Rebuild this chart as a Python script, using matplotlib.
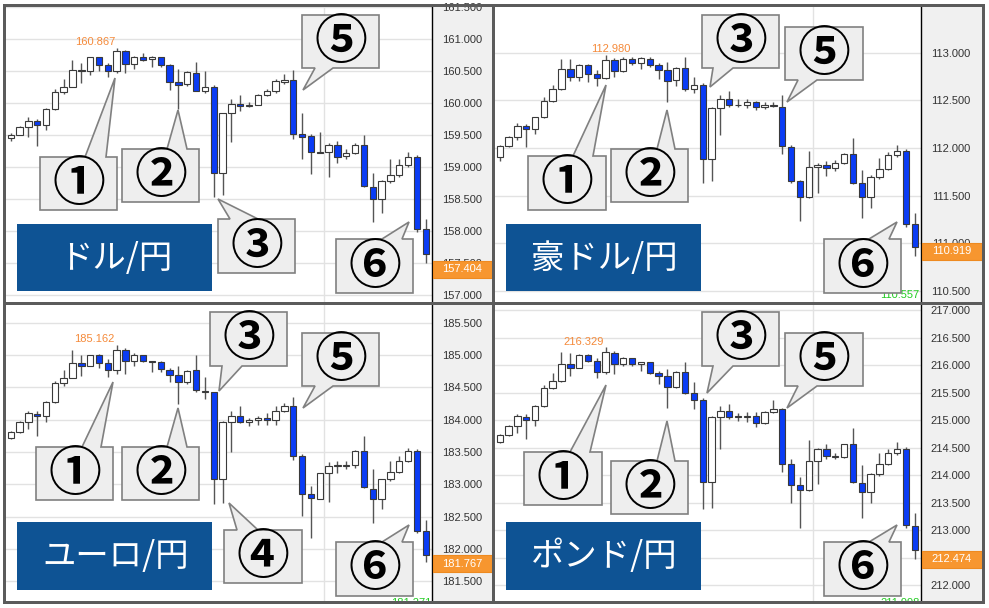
import matplotlib
matplotlib.use('Agg')
import matplotlib.pyplot as plt
from matplotlib.patches import Rectangle, Polygon
import numpy as np

W, H, DPI = 989, 608, 100

# ---------------- data ----------------
usd_open  = [159.458,159.510,159.635,159.719,159.656,159.906,160.182,160.260,160.521,160.500,160.719,160.594,160.500,160.823,160.615,160.719,160.688,160.719,160.594,160.333,160.302,160.479,160.188,160.260,158.906,159.844,159.990,159.958,159.979,160.135,160.198,160.333,160.365,159.521,159.490,159.240,159.240,159.354,159.177,159.219,159.354,158.698,158.500,158.792,158.885,159.031,159.167,158.031]
usd_high  = [159.531,159.651,159.781,159.750,159.922,160.219,160.385,160.677,160.635,160.729,160.729,160.635,160.867,160.833,160.740,160.792,160.740,160.729,160.615,160.531,160.500,160.646,160.510,160.281,159.854,160.073,160.135,160.021,160.146,160.229,160.385,160.458,160.521,159.844,159.521,159.552,159.375,159.406,159.292,159.375,159.500,158.917,158.802,159.125,159.125,159.240,159.198,158.188]
usd_low   = [159.406,159.500,159.479,159.339,159.583,159.896,160.141,160.250,160.323,160.438,160.500,160.417,160.479,160.479,160.542,160.667,160.573,160.573,160.208,159.906,160.271,160.188,160.167,158.542,158.568,159.401,159.875,159.948,159.969,160.115,160.156,160.302,159.438,159.125,158.896,159.219,158.844,159.063,159.125,159.208,158.688,158.146,158.292,158.750,158.854,159.010,157.990,157.500]
usd_close = [159.510,159.635,159.719,159.656,159.906,160.182,160.260,160.521,160.500,160.719,160.594,160.510,160.823,160.615,160.719,160.677,160.719,160.594,160.328,160.281,160.490,160.198,160.260,158.906,159.844,159.990,159.958,159.979,160.135,160.198,160.344,160.365,159.521,159.479,159.240,159.224,159.354,159.167,159.219,159.354,158.708,158.500,158.792,158.885,159.031,159.167,158.031,157.646]

aud_open  = [111.902,112.024,112.115,112.234,112.199,112.322,112.497,112.615,112.829,112.741,112.874,112.776,112.734,112.923,112.811,112.937,112.888,112.937,112.874,112.818,112.713,112.839,112.615,112.664,111.888,112.416,112.510,112.455,112.455,112.483,112.427,112.455,112.427,112.007,111.650,111.490,111.804,111.825,111.790,111.846,111.937,111.636,111.483,111.699,111.783,111.923,111.965,111.203]
aud_high  = [112.035,112.126,112.266,112.252,112.329,112.531,112.664,112.937,112.930,112.881,112.881,112.818,112.980,112.944,112.958,112.958,112.958,112.958,112.895,112.902,112.853,112.951,112.741,112.678,112.427,112.559,112.601,112.510,112.510,112.490,112.483,112.483,112.552,112.035,111.664,111.965,111.839,111.867,111.874,111.951,112.105,111.769,111.720,111.895,111.958,112.028,111.986,111.322]
aud_low   = [111.867,112.014,112.084,112.014,112.147,112.315,112.483,112.608,112.699,112.699,112.692,112.650,112.720,112.741,112.797,112.874,112.832,112.853,112.720,112.486,112.650,112.601,112.580,111.629,111.657,112.133,112.427,112.427,112.420,112.399,112.413,112.434,111.937,111.636,111.238,111.476,111.524,111.706,111.755,111.832,111.622,111.266,111.371,111.671,111.769,111.909,111.175,110.867]
aud_close = [112.024,112.115,112.234,112.199,112.322,112.497,112.615,112.829,112.741,112.874,112.776,112.734,112.923,112.811,112.937,112.888,112.944,112.874,112.818,112.706,112.839,112.615,112.664,111.888,112.416,112.510,112.448,112.448,112.483,112.427,112.455,112.441,112.021,111.650,111.490,111.804,111.825,111.790,111.846,111.937,111.636,111.483,111.699,111.783,111.923,111.965,111.203,110.958]

eur_open  = [183.709,183.813,183.958,184.092,184.051,184.268,184.568,184.651,184.879,184.837,184.993,184.879,184.765,185.070,184.900,184.993,184.905,184.889,184.775,184.693,184.579,184.765,184.440,184.423,183.078,183.958,184.051,183.958,183.999,184.030,183.989,184.134,184.206,183.430,182.850,182.777,183.171,183.290,183.290,183.295,183.512,182.922,182.777,183.078,183.192,183.357,183.512,182.270]
eur_high  = [183.823,183.978,184.134,184.134,184.289,184.599,184.765,185.081,185.003,185.003,185.013,184.931,185.162,185.107,185.024,184.993,184.910,184.910,184.806,184.827,184.775,185.003,184.661,184.434,183.978,184.134,184.206,184.020,184.061,184.102,184.206,184.258,184.346,183.461,182.974,183.181,183.347,183.357,183.367,183.523,183.751,183.233,183.088,183.357,183.430,183.554,183.543,182.446]
eur_low   = [183.699,183.792,183.854,183.740,183.958,184.258,184.527,184.641,184.672,184.827,184.796,184.661,184.703,184.713,184.837,184.889,184.744,184.734,184.579,184.242,184.558,184.434,184.320,182.689,182.715,183.502,183.947,183.895,183.916,183.916,183.916,184.123,183.378,182.508,182.167,182.777,182.726,183.181,183.233,183.254,182.943,182.405,182.612,183.057,183.171,183.347,182.249,181.804]
eur_close = [183.813,183.958,184.102,184.051,184.268,184.568,184.651,184.879,184.837,184.993,184.879,184.775,185.070,184.900,184.993,184.900,184.895,184.786,184.693,184.579,184.755,184.454,184.430,183.078,183.958,184.051,183.958,183.999,184.030,183.989,184.134,184.206,183.430,182.850,182.788,183.171,183.285,183.300,183.300,183.512,182.953,182.777,183.078,183.192,183.357,183.512,182.270,181.908]

gbp_open  = [214.597,214.730,214.888,215.058,214.998,215.265,215.593,215.708,216.030,215.957,216.188,216.079,215.872,216.225,216.018,216.128,216.030,216.055,215.860,215.800,215.605,215.872,215.496,215.362,213.880,215.058,215.168,215.076,215.064,215.083,214.949,215.143,215.204,214.208,213.831,213.734,214.256,214.487,214.335,214.341,214.560,213.855,213.697,214.026,214.208,214.402,214.487,213.078]
gbp_high  = [214.742,214.913,215.119,215.107,215.277,215.642,215.860,216.237,216.213,216.200,216.200,216.128,216.329,216.261,216.152,216.140,216.067,216.067,215.897,215.933,215.897,216.067,215.702,215.399,215.070,215.265,215.289,215.131,215.143,215.156,215.168,215.374,215.228,214.305,213.977,214.633,214.499,214.560,214.414,214.572,214.852,214.183,214.050,214.414,214.475,214.609,214.512,213.309]
gbp_low   = [214.584,214.718,214.767,214.657,214.888,215.241,215.569,215.690,215.812,215.945,216.055,215.775,215.848,215.848,215.994,215.982,215.897,215.836,215.654,215.216,215.581,215.471,215.204,213.382,213.406,214.475,215.022,214.985,214.961,214.876,214.925,215.131,214.062,213.491,213.041,213.722,213.843,214.293,214.293,214.317,213.855,213.224,213.491,213.989,214.183,214.378,213.041,212.482]
gbp_close = [214.730,214.888,215.083,214.998,215.265,215.593,215.708,216.030,215.957,216.188,216.079,215.872,216.249,216.018,216.128,216.030,216.061,215.860,215.800,215.605,215.872,215.496,215.362,213.880,215.058,215.168,215.058,215.064,215.076,214.949,215.143,215.204,214.208,213.831,213.734,214.256,214.487,214.354,214.347,214.560,213.880,213.697,214.026,214.208,214.402,214.487,213.090,212.652]

titles = ['ドル/円', '豪ドル/円', 'ユーロ/円', 'ポンド/円']
usd_ticks = [157.0, 157.5, 158.0, 158.5, 159.0, 159.5, 160.0, 160.5, 161.0, 161.5]
aud_ticks = [110.5, 111.0, 111.5, 112.0, 112.5, 113.0]
eur_ticks = [181.5, 182.0, 182.5, 183.0, 183.5, 184.0, 184.5, 185.0, 185.5]
gbp_ticks = [212.0, 212.5, 213.0, 213.5, 214.0, 214.5, 215.0, 215.5, 216.0, 216.5, 217.0]
current_prices = [157.404, 110.919, 181.767, 212.474]
high_labels = ['160.867', '112.980', '185.162', '216.329']
low_labels = [None, '110.557', '181.271', '211.998']

# ---------------- styling ----------------
NARROW = ['Liberation Sans', 'DejaVu Sans']
JP = ['Noto Sans CJK JP', 'DejaVu Sans']
UP_FILL, DOWN_FILL = '#ffffff', '#0a3cf5'
EDGE = '#3a3a3a'
GRID = '#e2e2e2'
FRAME = '#5b5b5b'
ORANGE = '#f7962f'

fig = plt.figure(figsize=(W / DPI, H / DPI), dpi=DPI)
fig.patch.set_facecolor('white')

def fx(px):
    return px / W

def fy(py):
    return 1 - py / H

# panel geometry in pixels: (plot x0, plot x1, strip x1, y0, y1)
geoms = [(6, 432, 492, 7, 302), (495, 921, 982, 7, 302),
         (6, 432, 492, 305, 601), (495, 921, 982, 305, 601)]
ylims = [(156.896, 161.505), (110.385, 113.479), (181.194, 185.774), (211.717, 217.094)]
panels = [(usd_open, usd_high, usd_low, usd_close, usd_ticks),
          (aud_open, aud_high, aud_low, aud_close, aud_ticks),
          (eur_open, eur_high, eur_low, eur_close, eur_ticks),
          (gbp_open, gbp_high, gbp_low, gbp_close, gbp_ticks)]
high_pos = [(11.8, 'right'), (12.6, 'center'), (11.8, 'right'), (11.8, 'right')]
low_pos = [None, 0.025, -0.006, -0.006]

axes = []
for k, ((o, h, l, c, ticks), (x0, x1, sx1, y0, y1)) in enumerate(zip(panels, geoms)):
    strip = fig.add_axes([fx(x1), fy(y1), fx(sx1 - x1), (y1 - y0) / H], zorder=0.5)
    strip.set_facecolor('#f0f0f0')
    strip.set_xticks([]); strip.set_yticks([])
    for s in strip.spines.values():
        s.set_visible(False)

    ax = fig.add_axes([fx(x0), fy(y1), fx(x1 - x0), (y1 - y0) / H], zorder=1)
    ax.set_facecolor('white')
    o, h, l, c = map(np.asarray, (o, h, l, c))
    x = np.arange(len(o))
    up = c >= o
    ax.vlines(x, l, h, color='#555555', lw=1.0, zorder=2)
    ax.bar(x, np.abs(c - o), width=0.72, bottom=np.minimum(o, c),
           color=np.where(up, UP_FILL, DOWN_FILL), edgecolor=EDGE, linewidth=0.8, zorder=3)
    ax.set_xlim(-0.53, 47.71)
    ax.set_ylim(*ylims[k])
    ax.set_xticks([])
    ax.set_yticks(ticks)
    ax.set_yticklabels([f'{t:.3f}' for t in ticks])
    ax.yaxis.tick_right()
    ax.tick_params(axis='y', length=0, pad=21.5, labelsize=8, labelcolor='#333333')
    for lbl in ax.get_yticklabels():
        lbl.set_horizontalalignment('center')
        lbl.set_fontfamily(NARROW)
    ax.grid(axis='y', color=GRID, lw=1, zorder=0)
    ax.axvline(35.5, color=GRID, lw=1, zorder=0)
    for side in ('left', 'top', 'bottom'):
        ax.spines[side].set_visible(False)
    ax.spines['right'].set_color('black')
    ax.spines['right'].set_linewidth(1.0)

    # high label
    hx, ha = high_pos[k]
    ax.annotate(high_labels[k], (hx, h.max()), xytext=(0, 4), textcoords='offset points',
                ha=ha, va='center', fontsize=8, color='#f58a3a', family=NARROW, zorder=5)
    # low label (clipped at the plot edge as in the source)
    if low_labels[k]:
        ax.text(0.905, low_pos[k], low_labels[k], transform=ax.transAxes,
                ha='left', va='center', fontsize=8, color='#22cc22', family=NARROW,
                clip_on=True, zorder=5)
    axes.append(ax)

# ---------------- overlay (pixel coordinates) ----------------
ov = fig.add_axes([0, 0, 1, 1], zorder=10)
ov.set_xlim(0, W); ov.set_ylim(H, 0)
ov.axis('off')
ov.patch.set_alpha(0)

# current price boxes
for k, ax in enumerate(axes):
    x0, x1, sx1, y0, y1 = geoms[k]
    disp = ax.transData.transform((0, current_prices[k]))
    py = H - disp[1]
    ov.add_patch(Rectangle((x1 + 0.5, py - 8.5), sx1 - x1 - 1, 17, facecolor=ORANGE,
                           edgecolor='#ee8a20', lw=0.8, zorder=2))
    ov.text((x1 + sx1) / 2, py, f'{current_prices[k]:.3f}', ha='center', va='center',
            fontsize=8, color='white', family=NARROW, zorder=3)

# frame
frame_rects = [(3, 4, 982, 3), (3, 601, 982, 3), (3, 4, 3, 600), (982, 4, 3, 600),
               (492, 4, 3, 600), (3, 302, 982, 3)]
for (rx, ry, rw, rh) in frame_rects:
    ov.add_patch(Rectangle((rx, ry), rw, rh, facecolor=FRAME, edgecolor='none', zorder=4))

# title boxes
title_boxes = [(17, 224, 212, 291), (506, 224, 701, 291), (17, 522, 212, 590), (506, 522, 701, 590)]
for t, (bx0, by0, bx1, by1) in zip(titles, title_boxes):
    ov.add_patch(Rectangle((bx0, by0), bx1 - bx0, by1 - by0, facecolor='#0e5394',
                           edgecolor='none', zorder=5))
    ov.text((bx0 + bx1) / 2 + 1, (by0 + by1) / 2 + 1, t, ha='center', va='center',
            fontsize=24, color='white', family=JP, zorder=6)

# callouts
callouts = [
    ('①', (40, 157, 117, 210), 'top', (85, 106), (115, 78)),
    ('②', (122, 149, 199, 202), 'top', (167, 187), (178, 110)),
    ('③', (218, 219, 295, 273), 'top', (230, 258), (218, 199)),
    ('⑤', (302, 15, 379, 68), 'bottom', (315, 333), (303, 90)),
    ('⑥', (336, 239, 413, 293), 'top', (382, 402), (409, 222)),
    ('①', (528, 156, 606, 210), 'top', (573, 593), (606, 85)),
    ('②', (611, 149, 688, 202), 'top', (657, 675), (667, 110)),
    ('③', (702, 15, 779, 68), 'bottom', (713, 733), (710, 87)),
    ('⑤', (785, 27, 863, 80), 'bottom', (798, 817), (787, 102)),
    ('⑥', (824, 239, 901, 293), 'top', (869, 889), (897, 222)),
    ('①', (36, 447, 113, 500), 'top', (82, 101), (113, 382)),
    ('②', (122, 447, 199, 500), 'top', (167, 187), (178, 408)),
    ('③', (210, 312, 287, 366), 'bottom', (222, 242), (219, 391)),
    ('④', (224, 530, 302, 583), 'top', (237, 258), (229, 503)),
    ('⑤', (302, 333, 379, 386), 'bottom', (315, 333), (303, 408)),
    ('⑥', (336, 542, 413, 596), 'top', (382, 402), (409, 525)),
    ('①', (524, 452, 602, 505), 'top', (570, 590), (606, 385)),
    ('②', (611, 461, 688, 514), 'top', (657, 675), (667, 421)),
    ('③', (702, 312, 779, 366), 'bottom', (713, 733), (707, 393)),
    ('⑤', (785, 333, 863, 386), 'bottom', (798, 817), (787, 408)),
    ('⑥', (824, 542, 901, 596), 'top', (869, 889), (897, 525)),
]
for label, (bx0, by0, bx1, by1), side, (a, b), tip in callouts:
    if side == 'top':
        pts = [(bx0, by0), (a, by0), tip, (b, by0), (bx1, by0), (bx1, by1), (bx0, by1)]
    else:
        pts = [(bx0, by0), (bx1, by0), (bx1, by1), (b, by1), tip, (a, by1), (bx0, by1)]
    ov.add_patch(Polygon(pts, closed=True, facecolor='#eeeeee', edgecolor='#808080',
                         lw=1.2, zorder=5))
    ov.text((bx0 + bx1) / 2, (by0 + by1) / 2 + 1, label, ha='center', va='center',
            fontsize=38, fontweight='bold', color='black', family=JP, zorder=6)

fig.savefig('out.png', dpi=DPI)
